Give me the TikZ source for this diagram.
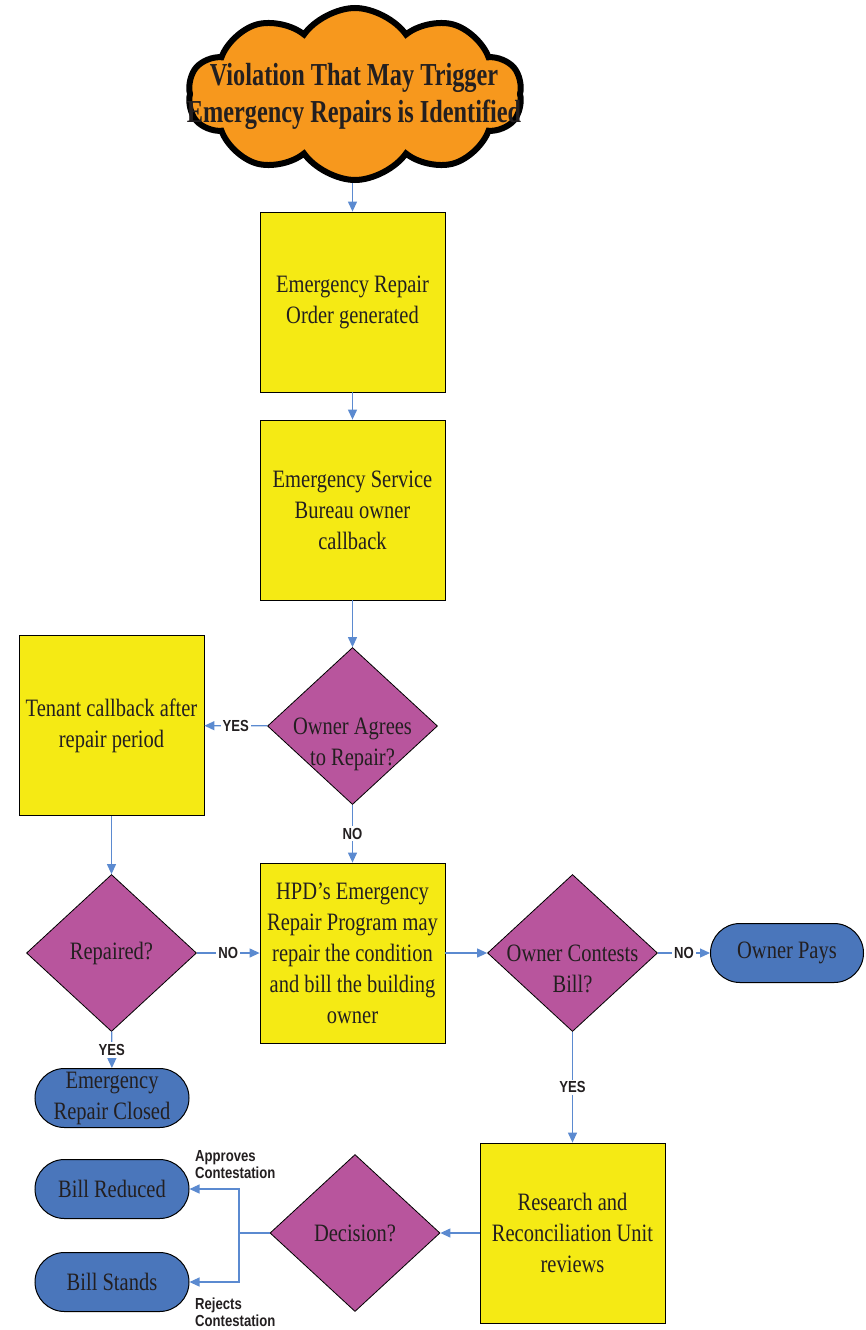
\documentclass[tikz,border=0pt]{standalone}
\usepackage{fontspec}
\setmainfont[FakeStretch=0.82]{Liberation Serif}
\newfontfamily\cloudfont[FakeStretch=0.76]{Liberation Serif}
\newfontfamily\lblfont[FakeStretch=0.82]{Liberation Sans}
\usetikzlibrary{shapes,arrows.meta,positioning,calc}
\definecolor{cloudorange}{HTML}{F7981D}
\definecolor{boxyellow}{HTML}{F5EA14}
\definecolor{decpurple}{HTML}{B8559D}
\definecolor{endblue}{HTML}{4A76BB}
\definecolor{flowblue}{HTML}{5B8AD0}
\definecolor{inkgrey}{HTML}{231F20}
\tikzset{
  procbox/.style={draw=black, line width=0.8pt, fill=boxyellow, minimum width=185, minimum height=180, inner sep=0, align=center, text=inkgrey, font=\fontsize{25}{31}\selectfont},
  decision/.style={diamond, draw=black, line width=0.8pt, fill=decpurple, minimum width=170, minimum height=157, inner sep=0},
  decnote/.style={align=center, inner sep=0, text=inkgrey, font=\fontsize{25}{31}\selectfont},
  terminal/.style={rounded rectangle, draw=black, line width=1pt, fill=endblue, minimum width=154, minimum height=59, inner sep=0, align=center, text=inkgrey, font=\fontsize{25}{31}\selectfont},
  flow/.style={draw=flowblue, line width=1.2pt, -{Triangle[length=10pt,width=9pt]}, color=flowblue},
  answer/.style={font=\lblfont\bfseries\fontsize{16}{17}\selectfont, fill=white, inner sep=2pt, text=inkgrey},
  sidenote/.style={font=\lblfont\bfseries\fontsize{16}{17}\selectfont, align=left, inner sep=0, text=inkgrey}
}

\begin{document}
\begin{tikzpicture}[x=1pt, y=-1pt]
    \useasboundingbox (0,0) rectangle (865,1330);

    % trigger (top)
    \node[cloud, cloud puffs=10, cloud puff arc=110, draw=black, line width=6pt, fill=cloudorange, minimum width=334, minimum height=172] (trigger) at (355,94) {};
    \node[font=\cloudfont\bfseries\fontsize{32}{37}\selectfont, align=center, text=inkgrey] (triggertext) at (354,96) {Violation That May Trigger\\Emergency Repairs is Identified};

    % main column
    \node[procbox] (order) at (352.5,302) {Emergency Repair\\Order generated};
    \node[procbox] (callback) at (352.5,510) {Emergency Service\\Bureau owner\\callback};
    \node[decision] (agrees) at (352.5,726) {};
    \node[decnote] (agreesnote) at ($(agrees.center)+(0,18)$) {Owner Agrees\\to Repair?};
    \node[procbox] (hpd) at (352.5,953) {HPD’s Emergency\\Repair Program may\\repair the condition\\and bill the building\\owner};

    % left column
    \node[procbox] (tenant) at (111.5,725.5) {Tenant callback after\\repair period};
    \node[decision] (repaired) at (111.5,953) {};
    \node[decnote] (repairednote) at (repaired.center) {Repaired?};
    \node[terminal] (closed) at (112,1098) {Emergency\\Repair Closed};

    % right side
    \node[decision] (contests) at (572.5,953) {};
    \node[decnote] (contestsnote) at ($(contests.center)+(0,15.5)$) {Owner Contests\\Bill?};
    \node[terminal, minimum width=153] (pays) at (787,953) {Owner Pays};
    \node[procbox] (research) at (572.5,1233) {Research and\\Reconciliation Unit\\reviews};
    \node[decision] (decide) at (355,1233) {};
    \node[decnote] (decidenote) at (decide.center) {Decision?};
    \node[terminal] (reduced) at (112,1189) {Bill Reduced};
    \node[terminal] (stands) at (112,1282) {Bill Stands};

    % connectors
    \draw[flow] (order.north |- trigger.south) -- (order.north);
    \draw[flow] (order) -- (callback);
    \draw[flow] (callback) -- (agrees);
    \draw[flow] (agrees) -- (tenant) node[midway, answer] {YES};
    \draw[flow] (agrees) -- (hpd) node[midway, answer] {NO};
    \draw[flow] (tenant) -- (repaired);
    \draw[flow] (repaired) -- (hpd) node[midway, answer] {NO};
    \draw[flow] (repaired) -- (closed) node[midway, answer] {YES};
    \draw[flow] (hpd) -- (contests);
    \draw[flow] (contests) -- (pays) node[midway, answer] {NO};
    \draw[flow] (contests) -- (research) node[midway, answer] {YES};
    \draw[flow] (research) -- (decide);

    % decision branches
    \coordinate (split) at (239,1233);
    \draw[flowblue, line width=1.2pt] (decide.west) -- (split);
    \draw[flow] (split) |- (reduced.east);
    \draw[flow] (split) |- (stands.east);
    \node[sidenote, anchor=west] (approves) at (195,1165) {Approves\\Contestation};
    \node[sidenote, anchor=west] (rejects) at (195,1312) {Rejects\\Contestation};

\end{tikzpicture}
\end{document}
